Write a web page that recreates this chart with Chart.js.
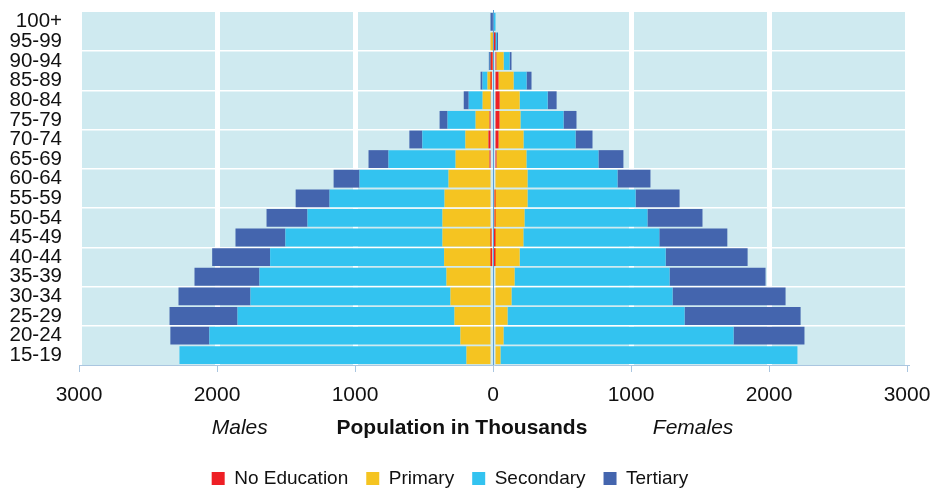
<!DOCTYPE html>
<html>
<head>
<meta charset="utf-8">
<script src="https://cdn.jsdelivr.net/npm/chart.js"></script>
<style>
  html, body { margin: 0; padding: 0; background: #ffffff; }
  #wrap { width: 934px; height: 488px; }
</style>
</head>
<body>
<div id="wrap"><canvas id="c" width="934" height="488"></canvas></div>
<script>
// ---------- data (thousands) ----------
const ageGroups = ['100+','95-99','90-94','85-89','80-84','75-79','70-74','65-69','60-64','55-59','50-54','45-49','40-44','35-39','30-34','25-29','20-24','15-19'];
const seriesNames = ['No Education', 'Primary', 'Secondary', 'Tertiary'];

const maleNoEducation = [0, 0, 3, 9, 17, 25, 33, 25, 18, 18, 18, 11, 6, 0, 0, 0, 0, 0];
const malePrimary     = [0, 1, 10, 31, 58, 101, 167, 246, 304, 333, 348, 355, 348, 337, 308, 279, 236, 192];
const maleSecondary   = [0, 2, 10, 36, 101, 203, 312, 486, 645, 833, 978, 1138, 1261, 1355, 1449, 1572, 1819, 2080];
const maleTertiary    = [1, 4, 7, 14, 36, 58, 94, 145, 188, 246, 297, 362, 420, 471, 522, 493, 283, 0];

const femaleNoEducation = [0, 1, 24, 40, 48, 47, 40, 25, 18, 11, 11, 6, 5, 0, 0, 0, 0, 0];
const femalePrimary     = [0, 14, 53, 109, 145, 152, 181, 217, 232, 239, 217, 214, 188, 156, 134, 105, 76, 54];
const femaleSecondary   = [1, 14, 43, 94, 203, 312, 377, 522, 652, 783, 891, 985, 1058, 1123, 1167, 1283, 1667, 2152];
const femaleTertiary    = [7, 7, 14, 36, 65, 94, 123, 181, 239, 319, 399, 493, 594, 696, 819, 841, 514, 0];

const xTickLabels = ['3000', '2000', '1000', '0', '1000', '2000', '3000'];
const axisTitle = 'Population in Thousands';
const maleCaption = 'Males';
const femaleCaption = 'Females';

// ---------- styles ----------
const seriesColors = ['#ee1f25', '#f5c421', '#33c3f0', '#4465ae'];
const FONT = '"Liberation Sans", Arial, Helvetica, sans-serif';
const TEXT = '#111111';

const maleSeries = [maleNoEducation, malePrimary, maleSecondary, maleTertiary];
const femaleSeries = [femaleNoEducation, femalePrimary, femaleSecondary, femaleTertiary];

const datasets = [];
maleSeries.forEach((arr, i) => datasets.push({
  label: seriesNames[i], data: arr.map(v => -v), backgroundColor: seriesColors[i],
  borderWidth: 0, stack: 'pop', categoryPercentage: 1, barPercentage: 0.91
}));
femaleSeries.forEach((arr, i) => datasets.push({
  label: seriesNames[i] + ' (F)', data: arr.slice(), backgroundColor: seriesColors[i],
  borderWidth: 0, stack: 'pop', categoryPercentage: 1, barPercentage: 0.91
}));

// plot panel background
const panelBg = {
  id: 'panelBg',
  beforeDraw(chart) {
    const {ctx, chartArea: a} = chart;
    ctx.save();
    ctx.fillStyle = '#cfeaf0';
    ctx.fillRect(a.left, a.top, a.right - a.left, a.bottom - a.top);
    ctx.restore();
  }
};

// zero line drawn above the bars
const zeroLine = {
  id: 'zeroLine',
  afterDatasetsDraw(chart) {
    const {ctx, chartArea: a, scales: {x}} = chart;
    const px = Math.round(x.getPixelForValue(0)) + 0.5;
    ctx.save();
    ctx.strokeStyle = '#5a9fd6';
    ctx.lineWidth = 1;
    ctx.beginPath();
    ctx.moveTo(px, a.top - 2);
    ctx.lineTo(px, a.bottom);
    ctx.stroke();
    ctx.restore();
  }
};

// captions under the axis
const captions = {
  id: 'captions',
  afterDraw(chart) {
    const {ctx, scales: {x}} = chart;
    const y = x.bottom + 20;
    ctx.save();
    ctx.fillStyle = TEXT;
    ctx.textAlign = 'center';
    ctx.textBaseline = 'middle';
    ctx.font = 'italic 21px ' + FONT;
    ctx.fillText(maleCaption, x.getPixelForValue(-1835), y);
    ctx.fillText(femaleCaption, x.getPixelForValue(1450), y);
    ctx.font = 'bold 21px ' + FONT;
    ctx.fillText(axisTitle, x.getPixelForValue(-225), y);
    ctx.restore();
  }
};

// place the legend row
const legendPlace = {
  id: 'legendPlace',
  afterLayout(chart) {
    const lg = chart.legend;
    if (!lg) return;
    const lo = lg.options.labels;
    const p = lo.padding;
    const itemH = Math.max(lo.boxHeight, 19);
    const dy = 478.5 - (lg.top + p + itemH / 2);
    const dx = 450 - (lg.left + lg.right) / 2;
    lg.top += dy; lg.bottom += dy; lg.left += dx; lg.right += dx;
  }
};

new Chart(document.getElementById('c'), {
  type: 'bar',
  data: { labels: ageGroups, datasets },
  plugins: [panelBg, zeroLine, captions, legendPlace],
  options: {
    indexAxis: 'y',
    responsive: false,
    animation: false,
    devicePixelRatio: 1,
    layout: { padding: { left: 10, right: 27, top: 12, bottom: 33 } },
    scales: {
      x: {
        type: 'linear',
        stacked: true,
        min: -3000, max: 3000,
        ticks: {
          stepSize: 1000,
          padding: 11,
          color: TEXT,
          font: { family: FONT, size: 21 },
          callback: (v, i) => xTickLabels[i]
        },
        grid: {
          color: (c) => (c.tick && c.tick.value === 0) ? 'rgba(0,0,0,0)' : '#ffffff',
          lineWidth: 5,
          drawTicks: true,
          tickLength: 7,
          tickWidth: 1,
          tickColor: '#aac6e0'
        },
        border: { display: true, color: '#aac6e0', width: 1 },
        afterFit: (s) => { s.height = 43; s.paddingLeft = 0; s.paddingRight = 0; }
      },
      y: {
        type: 'category',
        stacked: true,
        offset: true,
        ticks: {
          padding: 17,
          color: TEXT,
          font: { family: FONT, size: 20.5 },
          autoSkip: false
        },
        grid: {
          offset: true,
          drawTicks: false,
          color: (c) => (c.index > 0 && c.index % 2 === 0) ? '#ffffff' : 'rgba(0,0,0,0)',
          lineWidth: 1.5
        },
        border: { display: false },
        afterFit: (s) => { s.width = 69; s.paddingTop = 0; s.paddingBottom = 0; }
      }
    },
    plugins: {
      tooltip: { enabled: false },
      title: { display: false },
      legend: {
        display: true,
        position: 'bottom',
        labels: {
          boxWidth: 13,
          boxHeight: 13,
          padding: 18,
          color: TEXT,
          font: { family: FONT, size: 19 },
          filter: (item) => item.datasetIndex < 4
        }
      }
    }
  }
});
</script>
</body>
</html>
